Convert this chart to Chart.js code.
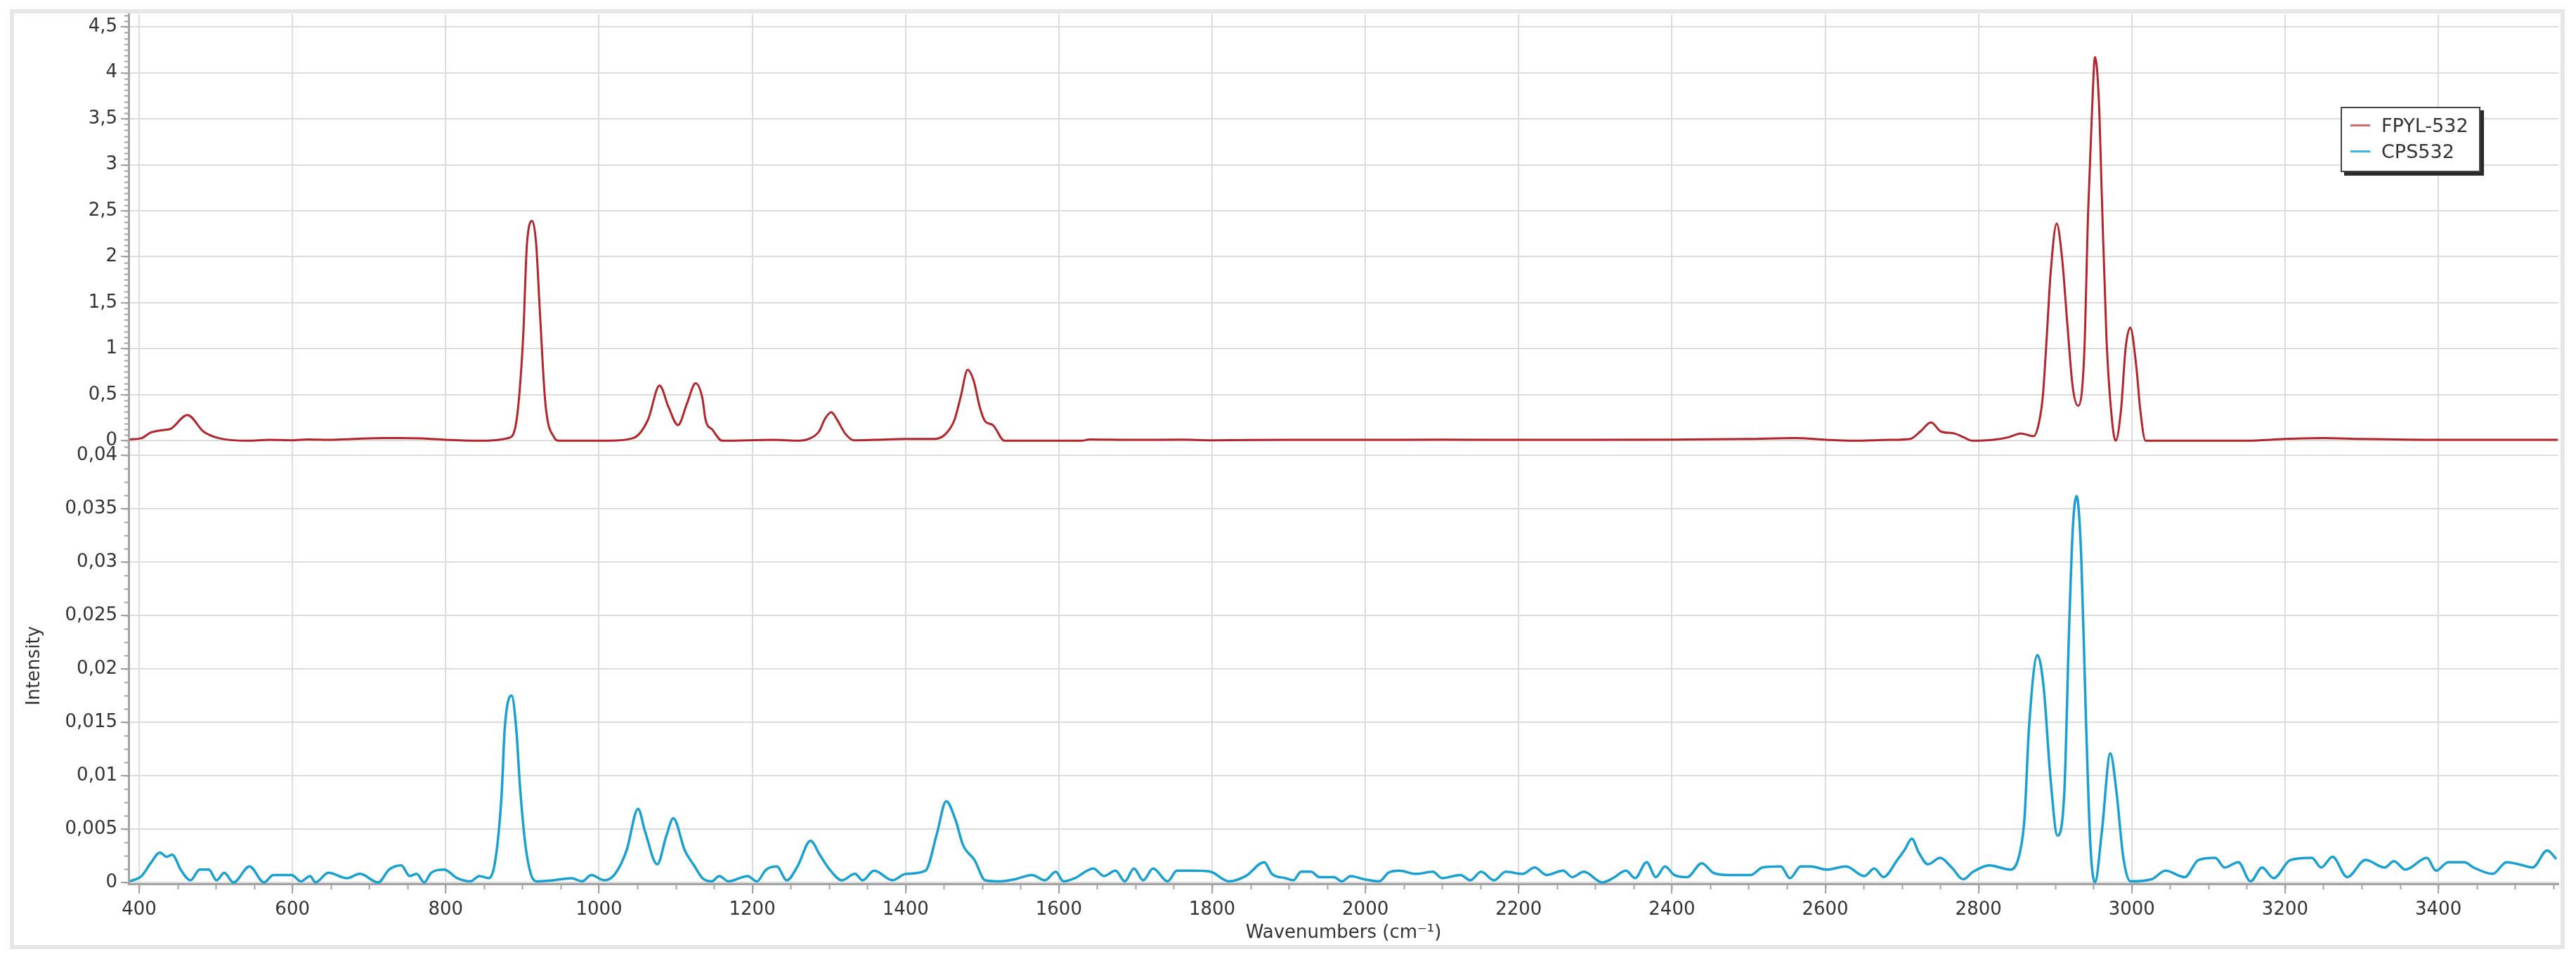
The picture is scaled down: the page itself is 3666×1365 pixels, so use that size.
<!DOCTYPE html>
<html>
<head>
<meta charset="utf-8">
<title>FPYL-532 / CPS532 Raman spectra</title>
<script src="https://cdn.jsdelivr.net/npm/chart.js@4.4.1/dist/chart.umd.min.js"></script>
<style>
  html, body { margin: 0; padding: 0; background: #fff; }
  #wrap { position: relative; width: 3666px; height: 1365px; }
  #frame { position: absolute; left: 14px; top: 13px; width: 3636px; height: 1338px; box-sizing: border-box; border: 6px solid #e6e6e6; pointer-events: none; }
  #legend { position: absolute; left: 3331px; top: 152px; width: 199px; height: 93px; box-sizing: border-box; border: 2px solid #444; background: #fff; box-shadow: 5px 5px 0 #2a2a2a; font: 27px "DejaVu Sans", Verdana, sans-serif; color: #333; padding: 6px 0 0 12px; }
  .item { display: flex; align-items: center; height: 37px; }
  .swatch { width: 28px; height: 3px; margin-right: 16px; }
</style>
</head>
<body>
<div id="wrap">
  <canvas id="spectra" width="3666" height="1365"></canvas>
  <div id="frame"></div>
  <div id="legend"></div>
</div>
<script>
// --- Data ---
const fpylWavenumbers = [388, 403, 415, 431, 441, 463, 484, 503, 542, 570, 600, 620, 650, 680, 720, 740, 770, 800, 844,
  882, 892, 901, 906, 913, 918, 923, 930, 942, 947, 1012, 1045, 1064, 1079, 1091, 1103, 1115, 1126, 1135, 1139, 1148, 1161,
  1228, 1262, 1274, 1287, 1295, 1303, 1312, 1321, 1333, 1360, 1400, 1438, 1453, 1464, 1472, 1481, 1489, 1497, 1504, 1514,
  1529, 1630, 1640, 1700, 1760, 1800, 1900, 2000, 2100, 2200, 2300, 2400, 2500, 2560, 2602, 2636, 2684, 2711, 2724, 2738,
  2751, 2768, 2780, 2792, 2819, 2840, 2855, 2872, 2879, 2884, 2889, 2894, 2902, 2909, 2916, 2923, 2930, 2938, 2943, 2948,
  2952, 2957, 2961, 2967, 2974, 2979, 2986, 2992, 2998, 3006, 3011, 3018, 3150, 3200, 3250, 3300, 3400, 3500, 3556];
const fpylIntensity = [0.015, 0.028, 0.09, 0.116, 0.13, 0.28, 0.10, 0.03, 0.0, 0.01, 0.005, 0.015, 0.01, 0.02, 0.03, 0.03, 0.025, 0.01, 0.0,
  0.03, 0.2, 1.12, 2.14, 2.39, 2.14, 1.38, 0.41, 0.03, 0.0, 0.0, 0.03, 0.23, 0.60, 0.36, 0.17, 0.41, 0.625, 0.46, 0.23, 0.12, 0.0,
  0.01, 0.0, 0.02, 0.1, 0.24, 0.31, 0.21, 0.08, 0.005, 0.01, 0.02, 0.02, 0.08, 0.23, 0.48, 0.77, 0.65, 0.36, 0.21, 0.17,
  0.0, 0.0, 0.015, 0.01, 0.012, 0.005, 0.01, 0.01, 0.012, 0.01, 0.01, 0.012, 0.02, 0.03, 0.01, 0.0, 0.01, 0.02, 0.1, 0.2,
  0.1, 0.08, 0.04, 0.0, 0.01, 0.04, 0.08, 0.05, 0.2, 0.49, 1.12, 1.81, 2.36, 1.99, 1.26, 0.58, 0.38, 0.95, 2.48, 3.56,
  4.17, 3.71, 2.64, 1.11, 0.24, 0.0, 0.34, 1.01, 1.23, 0.8, 0.34, 0.0, 0.0, 0.02, 0.03, 0.02, 0.01, 0.01, 0.01];

const cpsWavenumbers = [388, 403, 415, 427, 436, 443, 455, 467, 479, 491, 501, 511, 523, 544, 563, 575, 599, 611, 623, 630,
  647, 671, 688, 712, 726, 742, 753, 762, 772, 781, 798, 815, 832, 844, 856, 865, 873, 877, 886, 892, 897, 904, 911, 918,
  940, 964, 978, 990, 1007, 1021, 1036, 1051, 1060, 1076, 1088, 1097, 1112, 1124, 1135, 1147, 1157, 1169, 1194, 1206, 1218,
  1232, 1245, 1259, 1276, 1288, 1300, 1317, 1334, 1344, 1359, 1383, 1400, 1426, 1441, 1453, 1465, 1475, 1490, 1504, 1524,
  1543, 1565, 1582, 1596, 1606, 1621, 1645, 1659, 1674, 1686, 1698, 1710, 1723, 1742, 1754, 1776, 1798, 1822, 1844, 1868,
  1878, 1896, 1906, 1916, 1929, 1940, 1959, 1969, 1981, 1998, 2018, 2030, 2044, 2066, 2088, 2100, 2124, 2137, 2151, 2168,
  2183, 2205, 2221, 2236, 2258, 2270, 2285, 2309, 2323, 2340, 2352, 2367, 2379, 2391, 2403, 2420, 2439, 2454, 2474, 2503,
  2518, 2542, 2554, 2568, 2581, 2602, 2627, 2651, 2664, 2676, 2694, 2704, 2713, 2722, 2734, 2750, 2765, 2780, 2793, 2814,
  2842, 2854, 2860, 2866, 2877, 2885, 2894, 2903, 2912, 2918, 2923, 2928, 2934, 2940, 2946, 2952, 2961, 2972, 2980, 2989,
  2998, 3026, 3044, 3069, 3087, 3109, 3121, 3139, 3155, 3170, 3185, 3207, 3235, 3247, 3262, 3281, 3305, 3330, 3342, 3357,
  3385, 3397, 3413, 3434, 3446, 3471, 3489, 3505, 3523, 3542, 3554];
const cpsIntensity = [0.0001, 0.0006, 0.0018, 0.0028, 0.0024, 0.0026, 0.0011, 0.0002, 0.0012, 0.0012, 0.0002, 0.0009, 0.0, 0.0015, 0.0, 0.0007, 0.0007, 0.0001, 0.0006, 0.0,
  0.0009, 0.0004, 0.0008, 0.0, 0.0012, 0.0016, 0.0006, 0.0008, 0.0, 0.0009, 0.0012, 0.0004, 0.0001, 0.0006, 0.0004, 0.0022, 0.0083, 0.0144, 0.0175, 0.0144, 0.0089, 0.0035, 0.0008, 0.0001,
  0.0002, 0.0004, 0.0001, 0.0007, 0.0002, 0.0008, 0.003, 0.0069, 0.0048, 0.0017, 0.0044, 0.006, 0.003, 0.0016, 0.0004, 0.0001, 0.0006, 0.0001, 0.0006, 0.0001, 0.0012,
  0.0015, 0.0002, 0.0015, 0.0039, 0.0026, 0.0013, 0.0002, 0.0008, 0.0002, 0.0011, 0.0002, 0.0008, 0.0011, 0.0046, 0.0076, 0.0059, 0.0035, 0.0021, 0.0002, 0.0001,
  0.0003, 0.0007, 0.0002, 0.001, 0.0001, 0.0004, 0.0013, 0.0006, 0.0011, 0.0001, 0.0013, 0.0002, 0.0013, 0.0001, 0.0011, 0.0011, 0.001, 0.0001, 0.0006, 0.0019,
  0.0008, 0.0004, 0.0002, 0.001, 0.001, 0.0005, 0.0005, 0.0001, 0.0006, 0.0003, 0.0001, 0.0009, 0.0011, 0.0008, 0.001, 0.0004, 0.0007, 0.0002, 0.001, 0.0002,
  0.001, 0.0008, 0.0014, 0.0007, 0.0011, 0.0005, 0.001, 0.0, 0.0004, 0.0011, 0.0004, 0.0019, 0.0005, 0.0015, 0.0007, 0.0005, 0.0018, 0.0009, 0.0007, 0.0007,
  0.0014, 0.0015, 0.0004, 0.0015, 0.0015, 0.0012, 0.0015, 0.0006, 0.0013, 0.0005, 0.0021, 0.0031, 0.0041, 0.0028, 0.0017, 0.0023, 0.0014, 0.0003, 0.001, 0.0016,
  0.0012, 0.0028, 0.006, 0.0146, 0.0213, 0.0183, 0.0097, 0.0044, 0.0085, 0.0232, 0.0331, 0.0362, 0.0306, 0.0158, 0.0035, 0.0, 0.0048, 0.0121, 0.0085, 0.0023,
  0.0001, 0.0003, 0.0011, 0.0005, 0.0021, 0.0023, 0.0014, 0.0019, 0.0001, 0.0014, 0.0004, 0.0021, 0.0023, 0.0014, 0.0024, 0.0005, 0.0021, 0.0014, 0.002, 0.0012,
  0.0023, 0.0011, 0.0019, 0.0019, 0.0014, 0.0008, 0.0019, 0.0017, 0.0014, 0.003, 0.0022];

const seriesLabels = ['FPYL-532', 'CPS532'];

// axis ranges and tick values
const xRange = [386.2, 3556.7];
const xTickValues = [400, 600, 800, 1000, 1200, 1400, 1600, 1800, 2000, 2200, 2400, 2600, 2800, 3000, 3200, 3400];
const topRange = [-0.076, 4.634];
const topStep = 0.5;
const bottomRange = [-0.00013, 0.04072];
const bottomStep = 0.005;
const minorSteps = { x: 50, yTop: 0.0625, yBottom: 0.00125 };

// --- Styles ---
const FONT = '"DejaVu Sans", Verdana, sans-serif';
const TEXT = '#333333';
const GRID = '#dcdcdc';
const AXIS = '#a3a3a3';
const RED = '#b3242b';
const BLUE = '#18a0d2';

Chart.defaults.font.family = FONT;
Chart.defaults.font.size = 26;
Chart.defaults.color = TEXT;

const commaFormat = v => String(v).replace('.', ',');

// short minor ticks between the labelled ones
const minorTicks = {
  id: 'minorTicks',
  afterDraw(chart) {
    const ctx = chart.ctx;
    ctx.save();
    ctx.strokeStyle = AXIS;
    ctx.lineWidth = 2;
    ctx.beginPath();
    ['yTop', 'yBottom'].forEach(id => {
      const s = chart.scales[id];
      const step = minorSteps[id];
      for (let v = Math.ceil(s.min / step) * step; v <= s.max; v += step) {
        const py = Math.round(s.getPixelForValue(v)) + 0.5;
        ctx.moveTo(s.right - 6, py);
        ctx.lineTo(s.right, py);
      }
    });
    const sx = chart.scales.x;
    for (let v = Math.ceil(sx.min / minorSteps.x) * minorSteps.x; v <= sx.max; v += minorSteps.x) {
      const px = Math.round(sx.getPixelForValue(v)) + 0.5;
      ctx.moveTo(px, sx.top);
      ctx.lineTo(px, sx.top + 8);
    }
    ctx.stroke();
    ctx.restore();
  }
};

const toPoints = (xs, ys) => xs.map((x, i) => ({ x: x, y: ys[i] }));

const ctx = document.getElementById('spectra').getContext('2d');
const chart = new Chart(ctx, {
  type: 'line',
  data: {
    datasets: [
      {
        label: seriesLabels[0],
        data: toPoints(fpylWavenumbers, fpylIntensity),
        yAxisID: 'yTop',
        borderColor: RED,
        legendColor: '#d46a6a',
        borderWidth: 3,
        pointRadius: 0,
        cubicInterpolationMode: 'monotone'
      },
      {
        label: seriesLabels[1],
        data: toPoints(cpsWavenumbers, cpsIntensity),
        yAxisID: 'yBottom',
        borderColor: BLUE,
        legendColor: '#3cb6e2',
        borderWidth: 3.5,
        pointRadius: 0,
        cubicInterpolationMode: 'monotone'
      }
    ]
  },
  options: {
    responsive: false,
    animation: false,
    layout: { padding: { top: 20, right: 25, left: 0, bottom: 0 } },
    plugins: {
      legend: { display: false },
      tooltip: { enabled: false }
    },
    scales: {
      x: {
        type: 'linear',
        min: xRange[0],
        max: xRange[1],
        afterFit: s => { s.height = 107; },
        // fixed wavenumber ticks every 200 cm-1
        afterBuildTicks: s => { s.ticks = xTickValues.map(v => ({ value: v })); },
        ticks: { padding: 8, maxRotation: 0, autoSkip: false, callback: commaFormat },
        grid: { color: GRID, lineWidth: 2, tickColor: AXIS, tickLength: 14, tickWidth: 2 },
        border: { color: AXIS, width: 3 },
        title: { display: true, text: 'Wavenumbers (cm⁻¹)', font: { size: 26 }, padding: { top: 0, bottom: 21 } }
      },
      yTop: {
        type: 'linear',
        position: 'left',
        stack: 'panels',
        stackWeight: 617,
        weight: 2,
        min: topRange[0],
        max: topRange[1],
        afterFit: s => { s.width = 183; },
        ticks: { stepSize: topStep, includeBounds: false, maxTicksLimit: 40, padding: 5, autoSkip: false, callback: commaFormat },
        grid: { color: GRID, lineWidth: 2, tickColor: AXIS, tickLength: 11, tickWidth: 2 },
        border: { color: AXIS, width: 3 }
      },
      yBottom: {
        type: 'linear',
        position: 'left',
        stack: 'panels',
        stackWeight: 621,
        weight: 1,
        min: bottomRange[0],
        max: bottomRange[1],
        afterFit: s => { s.width = 183; },
        ticks: { stepSize: bottomStep, includeBounds: false, maxTicksLimit: 40, padding: 5, autoSkip: false, callback: commaFormat },
        grid: { color: GRID, lineWidth: 2, tickColor: AXIS, tickLength: 11, tickWidth: 2 },
        border: { color: AXIS, width: 3 },
        title: { display: true, text: 'Intensity', font: { size: 26 }, padding: { top: 34, bottom: 0 } }
      }
    }
  },
  plugins: [minorTicks]
});

// legend box in the upper right, built from the datasets
const legend = document.getElementById('legend');
chart.data.datasets.forEach(ds => {
  const item = document.createElement('div');
  item.className = 'item';
  const swatch = document.createElement('span');
  swatch.className = 'swatch';
  swatch.style.background = ds.legendColor;
  const text = document.createElement('span');
  text.textContent = ds.label;
  item.appendChild(swatch);
  item.appendChild(text);
  legend.appendChild(item);
});
</script>
</body>
</html>
